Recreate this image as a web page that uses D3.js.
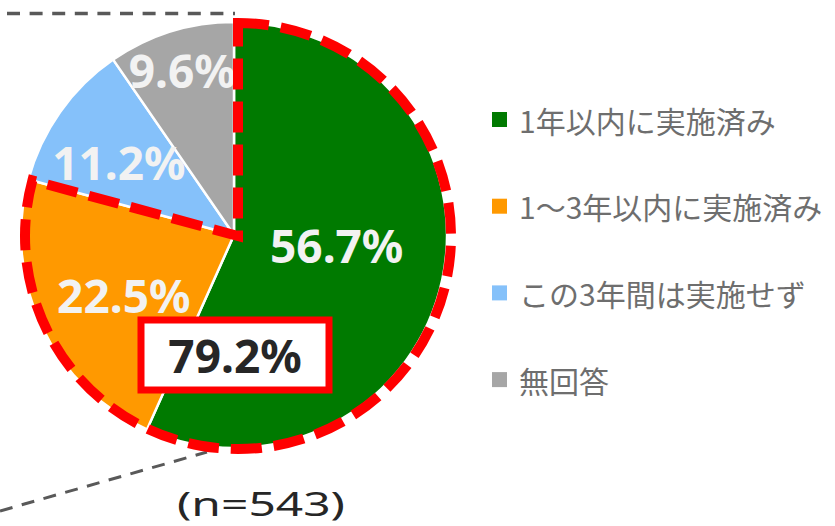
<!DOCTYPE html>
<html>
<head>
<meta charset="utf-8">
<script src="https://cdn.jsdelivr.net/npm/d3@7"></script>
<style>
  body { margin: 0; background: #fff; }
  text { font-family: "Noto Sans", "Noto Sans CJK JP", sans-serif; }
</style>
</head>
<body>
<div id="chart"></div>
<script>
const categories = ['1年以内に実施済み', '1～3年以内に実施済み', 'この3年間は実施せず', '無回答'];
const values = [56.7, 22.5, 11.2, 9.6];
const colors = ['#007a00', '#ff9900', '#85c1fa', '#a6a6a6'];
const sample_label = '(n=543)';

const chart_width = 835;
const chart_height = 526;
const cx = 234;
const cy = 235;
const radius = 213;

// label placement: radius along slice mid-angle, plus a small vertical nudge
const label_radius = [105, 122, 141, 174];
const label_dy = [-12, 8, 8, 1];

const svg = d3.select('#chart')
    .append('svg')
    .attr('width', chart_width)
    .attr('height', chart_height);

// connector lines to the neighbouring chart
svg.append('line')
    .attr('x1', 7).attr('y1', 13.5)
    .attr('x2', 235).attr('y2', 13.5)
    .attr('stroke', '#595959')
    .attr('stroke-width', 3.5)
    .attr('stroke-dasharray', '13 9.6');

svg.append('line')
    .attr('x1', 0).attr('y1', 511)
    .attr('x2', 207).attr('y2', 452)
    .attr('stroke', '#595959')
    .attr('stroke-width', 3)
    .attr('stroke-dasharray', '13 9.6');

const pie = d3.pie().sort(null).value(d => d);
const arcs = pie(values);

const arc = d3.arc().innerRadius(0).outerRadius(radius);

const g = svg.append('g')
    .attr('transform', `translate(${cx}, ${cy})`);

g.selectAll('path.slice')
    .data(arcs)
    .enter()
    .append('path')
    .attr('class', 'slice')
    .attr('d', arc)
    .attr('fill', (d, i) => colors[i])
    .attr('stroke', '#fff')
    .attr('stroke-width', 2.5);

// red dashed outline around the first two slices
const highlight = d3.arc()
    .innerRadius(0)
    .outerRadius(213)
    .startAngle(arcs[0].startAngle)
    .endAngle(arcs[1].endAngle);

svg.append('path')
    .attr('transform', `translate(${cx + 4}, ${cy + 1})`)
    .attr('d', highlight())
    .attr('fill', 'none')
    .attr('stroke', '#ff0000')
    .attr('stroke-width', 10)
    .attr('stroke-dasharray', '31 12');

// slice labels
g.selectAll('text.pct')
    .data(arcs)
    .enter()
    .append('text')
    .attr('class', 'pct')
    .attr('transform', (d, i) => {
        const c = d3.arc().innerRadius(label_radius[i]).outerRadius(label_radius[i]).centroid(d);
        return `translate(${c[0]}, ${c[1] + label_dy[i]})`;
    })
    .attr('text-anchor', 'middle')
    .attr('dominant-baseline', 'central')
    .attr('font-size', 46)
    .attr('font-weight', 700)
    .attr('fill', '#f2f2f2')
    .text(d => d.data.toFixed(1) + '%');

// combined total box
const total = values[0] + values[1];
const box = svg.append('g')
    .attr('transform', `translate(${cx + 1}, ${cy + 120})`);
box.append('rect')
    .attr('x', -94).attr('y', -35)
    .attr('width', 188).attr('height', 70)
    .attr('fill', '#fff')
    .attr('stroke', '#ff0000')
    .attr('stroke-width', 7);
box.append('text')
    .attr('text-anchor', 'middle')
    .attr('dominant-baseline', 'central')
    .attr('font-size', 46)
    .attr('font-weight', 700)
    .attr('fill', '#262626')
    .text(total.toFixed(1) + '%');

// sample size
svg.append('text')
    .attr('x', 177)
    .attr('y', 516)
    .attr('font-size', 32)
    .attr('fill', '#262626')
    .attr('textLength', 168)
    .attr('lengthAdjust', 'spacingAndGlyphs')
    .text(sample_label);

// legend
const legend = svg.append('g')
    .selectAll('g')
    .data(categories)
    .enter()
    .append('g')
    .attr('transform', (d, i) => `translate(492, ${119.5 + i * 86.7})`);

legend.append('rect')
    .attr('x', 0).attr('y', -7.5)
    .attr('width', 15).attr('height', 15)
    .attr('fill', (d, i) => colors[i]);

legend.append('text')
    .attr('x', 27)
    .attr('dominant-baseline', 'central')
    .attr('font-size', 30)
    .attr('fill', '#6e6e6e')
    .style('font-family', '"Noto Sans CJK JP", sans-serif')
    .text(d => d);
</script>
</body>
</html>
